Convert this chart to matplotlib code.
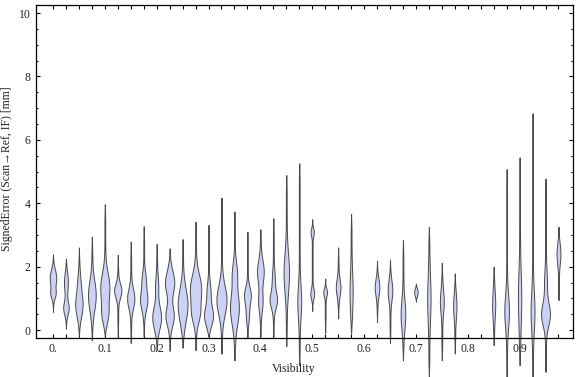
import numpy as np
import matplotlib
matplotlib.use("Agg")
import matplotlib.pyplot as plt
from matplotlib.ticker import FixedLocator, MultipleLocator

plt.rcParams["font.family"] = ["Liberation Serif", "DejaVu Serif"]

# visibility bins (0.025 wide), one violin per non-empty bin
bin_index = [0, 1, 2, 3, 4, 5, 6, 7, 8, 9, 10, 11, 12, 13, 14, 15, 16, 17, 18, 19,
             20, 21, 22, 23, 25, 26, 27, 28, 29, 30, 31, 34, 35, 36, 37, 38, 39]
# extent of each distribution (signed error, mm)
err_low = [0.58, 0.05, -0.2, -0.32, -0.2, -0.19, -0.4, -0.19, -0.63, -0.65, -0.55, -0.63,
           -0.2, -0.74, -0.95, -0.26, -0.2, -0.2, -0.5, -1.1, 0.61, -0.08, 0.37, -0.1,
           0.26, -0.4, -0.95, 0.9, -1.47, -0.95, -0.73, -0.47, -1.47, -1.1, -1.47, -1.31, 0.95]
err_high = [2.39, 2.26, 2.61, 2.95, 3.97, 2.37, 2.79, 3.28, 2.72, 2.58, 2.87, 3.42,
            3.32, 4.18, 3.74, 3.1, 3.18, 3.53, 4.89, 5.26, 3.5, 1.63, 2.61, 3.66,
            2.19, 2.23, 2.84, 1.47, 3.26, 2.13, 1.79, 2.0, 5.08, 5.45, 6.84, 4.78, 3.26]
# density modes: (centre, spread, peak density)
modes = [
    [(1.65, 0.25, 0.22), (1.15, 0.15, 0.15)],
    [(1.5, 0.3, 0.12), (0.7, 0.2, 0.18)],
    [(0.8, 0.35, 0.25), (1.5, 0.3, 0.08)],
    [(1.1, 0.45, 0.27)],
    [(1.35, 0.45, 0.32), (0.5, 0.3, 0.19)],
    [(1.25, 0.22, 0.25)],
    [(1.0, 0.3, 0.25)],
    [(0.95, 0.3, 0.25), (1.6, 0.25, 0.12)],
    [(0.4, 0.35, 0.31), (1.4, 0.3, 0.09)],
    [(1.5, 0.35, 0.33), (0.45, 0.3, 0.29)],
    [(0.8, 0.5, 0.35)],
    [(1.3, 0.45, 0.4), (0.5, 0.3, 0.23)],
    [(0.45, 0.3, 0.31), (1.2, 0.3, 0.12)],
    [(0.95, 0.45, 0.36)],
    [(0.7, 0.5, 0.31), (1.8, 0.35, 0.15)],
    [(1.1, 0.25, 0.23), (0.5, 0.25, 0.09)],
    [(1.85, 0.35, 0.23), (0.9, 0.3, 0.14)],
    [(0.95, 0.25, 0.25), (1.6, 0.3, 0.08)],
    [(1.8, 0.6, 0.18)],
    [(0.9, 0.5, 0.12)],
    [(3.1, 0.12, 0.1), (1.15, 0.15, 0.12)],
    [(1.2, 0.12, 0.12)],
    [(1.35, 0.25, 0.15)],
    [(1.2, 0.6, 0.09)],
    [(1.35, 0.25, 0.15)],
    [(1.25, 0.3, 0.15)],
    [(0.5, 0.45, 0.15)],
    [(1.2, 0.12, 0.12)],
    [(1.0, 0.7, 0.1)],
    [(0.9, 0.35, 0.12)],
    [(0.75, 0.35, 0.1)],
    [(0.8, 0.4, 0.09)],
    [(0.6, 0.5, 0.15)],
    [(1.0, 0.8, 0.1)],
    [(0.6, 0.6, 0.12)],
    [(0.5, 0.35, 0.31), (1.5, 0.4, 0.08)],
    [(2.4, 0.3, 0.12)],
]
xtick_bins = [0, 4, 8, 12, 16, 20, 24, 28, 32, 36]
xtick_labels = ["0.", "0.1", "0.2", "0.3", "0.4", "0.5", "0.6", "0.7", "0.8", "0.9"]

fig = plt.figure(figsize=(5.76, 3.77), dpi=100)
ax = fig.add_axes([36 / 576, 39.5 / 377, 537 / 576, 333 / 377])

for pos, lo, hi, mm in zip(bin_index, err_low, err_high, modes):
    y = np.linspace(lo, hi, 400)
    w = np.zeros_like(y)
    for mu, sd, amp in mm:
        w += amp * np.exp(-0.5 * ((y - mu) / sd) ** 2)
    edge = np.minimum(y - lo, hi - y)
    w += 0.03 * np.clip(edge / 0.5, 0, 1)
    w *= np.clip(edge / 0.12, 0, 1)
    ax.fill_betweenx(y, pos - w, pos + w, facecolor="#cbd2f6", edgecolor="#4a4a4a",
                     linewidth=0.7, clip_on=False, zorder=2)

ax.set_xlim(-1.31, 40.12)
ax.set_ylim(-0.23, 10.27)

ax.xaxis.set_major_locator(FixedLocator(xtick_bins))
ax.set_xticklabels(xtick_labels)
ax.xaxis.set_minor_locator(FixedLocator(list(range(40))))
ax.yaxis.set_major_locator(MultipleLocator(2))
ax.yaxis.set_minor_locator(MultipleLocator(0.5))

ax.tick_params(which="both", direction="in", top=True, right=True, width=0.8,
               labelsize=8.5, labelcolor="#222222", color="black")
ax.tick_params(which="major", length=3)
ax.tick_params(which="minor", length=1.6)
ax.tick_params(axis="x", which="minor", length=3)
ax.tick_params(axis="x", pad=4)
ax.tick_params(axis="y", pad=4)
for s in ax.spines.values():
    s.set_linewidth(0.9)

ax.set_xlabel("Visibility", fontsize=8.5, color="#222222")
ax.set_ylabel("SignedError (Scan\u2192Ref, IF) [mm]", fontsize=8.5, color="#222222")
ax.xaxis.set_label_coords(0.479, -0.077)
ax.yaxis.set_label_coords(-0.043, 0.506)

fig.savefig("out.png", dpi=100)
